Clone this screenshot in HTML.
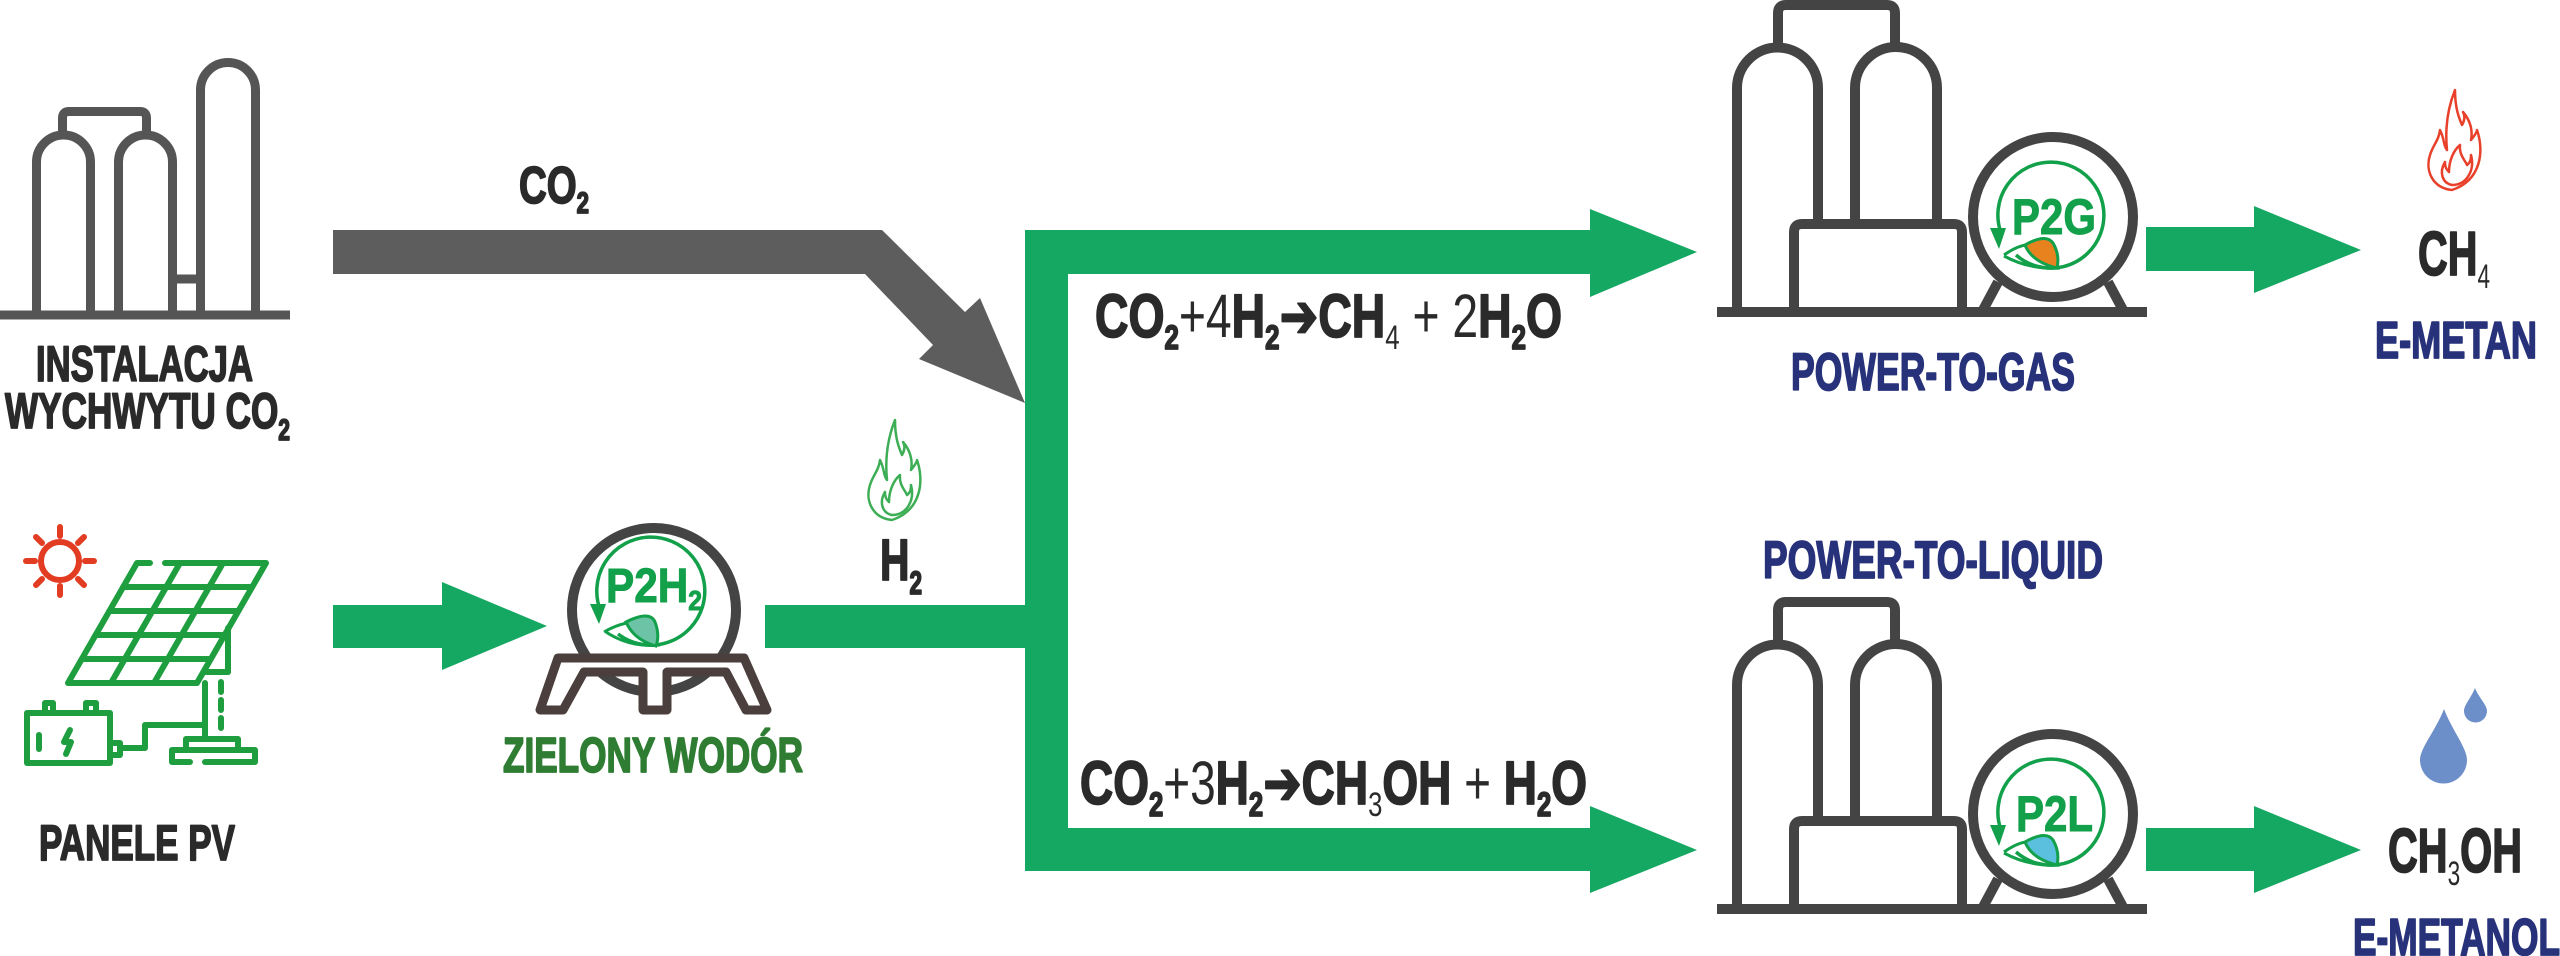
<!DOCTYPE html>
<html><head><meta charset="utf-8"><style>
html,body{margin:0;padding:0;background:#fff;}
svg{display:block;}
.t{font-family:"Liberation Sans Narrow","Liberation Sans",sans-serif;font-weight:bold;stroke-width:1.8px;stroke-linejoin:round;}
.r{font-weight:normal;stroke:none;}
</style></head><body>
<svg width="2560" height="956" viewBox="0 0 2560 956" xmlns="http://www.w3.org/2000/svg">
<polygon fill="#5d5d5d" points="333,230 882,230 965,312 980,298 1025,403 919,359 933,345 865,274 333,274"/>
<polygon fill="#15a862" points="1025,230 1590,230 1590,209 1697,252 1590,297 1590,274 1068,274 1068,828 1590,828 1590,806 1697,850 1590,893 1590,871 1025,871 1025,648 765,648 765,605 1025,605"/>
<polygon fill="#15a862" points="333,605 442,605 442,582 547,626 442,670 442,648 333,648"/>
<polygon fill="#15a862" points="2146,227 2254,227 2254,206 2361,250 2254,293 2254,271 2146,271"/>
<polygon fill="#15a862" points="2146,828 2254,828 2254,806 2361,850 2254,893 2254,871 2146,871"/>

<g fill="none" stroke="#555" stroke-width="9">
<line x1="0" y1="315" x2="290" y2="315"/>
<path d="M36.5,315 V162 A27,27 0 0 1 90.5,162 V315"/>
<path d="M118.5,315 V162 A27,27 0 0 1 172.5,162 V315"/>
<path d="M200.5,315 V90 A27.5,27.5 0 0 1 255.5,90 V315"/>
<path d="M62.5,136 V118 Q62.5,111.5 69,111.5 H140 Q146.5,111.5 146.5,118 V136"/>
<line x1="172.5" y1="279" x2="200.5" y2="279"/>
</g>
<text class="t" x="36" y="381" font-size="50" fill="#2a2a2a" stroke="#2a2a2a" textLength="217" lengthAdjust="spacingAndGlyphs">INSTALACJA</text>
<text class="t" x="5" y="428" font-size="50" fill="#2a2a2a" stroke="#2a2a2a" textLength="285" lengthAdjust="spacingAndGlyphs">WYCHWYTU CO<tspan font-size="30" dy="12">2</tspan></text>
<text class="t" x="519" y="203" font-size="52" fill="#2a2a2a" stroke="#2a2a2a" textLength="70" lengthAdjust="spacingAndGlyphs">CO<tspan font-size="30" dy="10">2</tspan></text>

<g stroke="#e23c22" stroke-width="6" stroke-linecap="round" fill="none">
<circle cx="60" cy="561" r="19"/>
<line x1="60" y1="536" x2="60" y2="527"/><line x1="60" y1="586" x2="60" y2="595"/>
<line x1="35" y1="561" x2="26" y2="561"/><line x1="85" y1="561" x2="94" y2="561"/>
<line x1="42" y1="543" x2="36" y2="537"/><line x1="78" y1="543" x2="84" y2="537"/>
<line x1="42" y1="579" x2="36" y2="585"/><line x1="78" y1="579" x2="84" y2="585"/>
</g>
<g stroke="#1e9e3e" stroke-width="6" stroke-linecap="round" stroke-linejoin="round" fill="none">
<path d="M150,563 H137 L68,683 H197 L266,563 H165"/>
<line x1="123.2" y1="587" x2="252.2" y2="587"/>
<line x1="109.4" y1="611" x2="238.4" y2="611"/>
<line x1="95.6" y1="635" x2="224.6" y2="635"/>
<line x1="81.8" y1="659" x2="210.8" y2="659"/>
<line x1="180" y1="563" x2="111" y2="683"/>
<line x1="223" y1="563" x2="154" y2="683"/>
<line x1="228" y1="628" x2="228" y2="672"/>
<line x1="205" y1="672" x2="228" y2="672"/>
<line x1="205" y1="683" x2="205" y2="738"/>
<line x1="221" y1="682" x2="221" y2="735" stroke-dasharray="10,8"/>
<path d="M186,748 V739 H238 V748"/>
<path d="M190,762 H172 V750 H255 V762 H205"/>
<rect x="27" y="713" width="83" height="50"/>
<path d="M45,713 V703 H53 V713 M86,713 V703 H96 V713"/>
<line x1="39" y1="735" x2="39" y2="749"/>
<path d="M70,730 L64,742 H71 L66,754"/>
<path d="M110,743 H120 V755 H110"/>
<path d="M120,748 H145 V725 H203"/>
</g>
<text class="t" x="39" y="860" font-size="50" fill="#2a2a2a" stroke="#2a2a2a" textLength="196" lengthAdjust="spacingAndGlyphs">PANELE PV</text>

<circle cx="654" cy="610" r="82" fill="none" stroke="#444" stroke-width="10"/>
<polygon fill="#fff" stroke="#4a3f3c" stroke-width="9" stroke-linejoin="round" points="558,658 744,658 767,710 746,710 726,672 667,672 667,710 643,710 643,672 584,672 563,710 540,710"/>
<path d="M618,634 A54,54 0 1 0 601,612" fill="none" stroke="#12a04a" stroke-width="3.5"/>
<polygon fill="#12a04a" points="590,604 606,604 599,624"/>
<path d="M604,632 Q625,620 645,622" fill="none" stroke="#12a04a" stroke-width="3"/>
<path d="M606,632 Q630,648 660,645" fill="none" stroke="#12a04a" stroke-width="3"/>
<path d="M626,622 Q650,610 655,622 Q660,635 656,646 Q634,640 626,622 Z" fill="#6cc3a6" stroke="#12a04a" stroke-width="3"/>
<text x="606" y="602" font-family="Liberation Sans, sans-serif" font-weight="bold" font-size="48" fill="#12a04a" stroke="#12a04a" stroke-width="1" textLength="96" lengthAdjust="spacingAndGlyphs">P2H<tspan font-size="28" dy="8">2</tspan></text>
<text class="t" x="503" y="772" font-size="49" fill="#2e7d32" stroke="#2e7d32" textLength="300" lengthAdjust="spacingAndGlyphs">ZIELONY WODÓR</text>

<g fill="none" stroke="#3dae55" stroke-width="2.5" stroke-linejoin="round">
<path d="M892,520 C872,518 865,500 870,485 C873,475 879,470 880,460 C885,470 883,475 887,480 C885,460 887,440 895,420 C895,440 900,450 902,455 C905,450 905,445 903,442 C910,450 913,460 911,470 C915,465 917,462 917,460 C924,480 922,510 892,520 Z"/>
<path d="M892,515 C882,513 879,502 885,492 C885,498 887,500 889,502 C889,490 894,480 900,475 C899,485 905,490 907,495 C911,492 911,488 911,485 C915,500 907,515 892,515 Z"/>
</g>
<text class="t" x="880" y="580" font-size="58" fill="#2a2a2a" stroke="#2a2a2a" textLength="42" lengthAdjust="spacingAndGlyphs">H<tspan font-size="32" dy="14">2</tspan></text>

<text class="t" x="1095" y="337" font-size="61" fill="#2a2a2a" stroke="#2a2a2a" textLength="467" lengthAdjust="spacingAndGlyphs">CO<tspan font-size="34" dy="12">2</tspan><tspan class="r" dy="-12">+4</tspan>H<tspan font-size="34" dy="12">2</tspan><tspan dy="-12" font-family="DejaVu Sans, sans-serif">➔</tspan>CH<tspan font-size="34" class="r" dy="12">4</tspan><tspan class="r" dy="-12"> + 2</tspan>H<tspan font-size="34" dy="12">2</tspan><tspan dy="-12">O</tspan></text>
<text class="t" x="1080" y="804" font-size="61" fill="#2a2a2a" stroke="#2a2a2a" textLength="507" lengthAdjust="spacingAndGlyphs">CO<tspan font-size="34" dy="12">2</tspan><tspan class="r" dy="-12">+3</tspan>H<tspan font-size="34" dy="12">2</tspan><tspan dy="-12" font-family="DejaVu Sans, sans-serif">➔</tspan>CH<tspan font-size="34" class="r" dy="12">3</tspan><tspan dy="-12">OH</tspan><tspan class="r"> + </tspan>H<tspan font-size="34" dy="12">2</tspan><tspan dy="-12">O</tspan></text>

<g id="plant">
<g fill="none" stroke="#444" stroke-width="10" stroke-linejoin="round">
<line x1="1717" y1="312" x2="2147" y2="312"/>
<path d="M1737,312 V88 A40.5,40.5 0 0 1 1818,88 V224"/>
<path d="M1855,224 V88 A41,41 0 0 1 1937,88 V224"/>
<path d="M1778,47 V13 Q1778,5 1786,5 H1887 Q1895,5 1895,13 V47"/>
<path d="M1794,312 V232 Q1794,224 1802,224 H1954 Q1962,224 1962,232 V312"/>
<line x1="1998" y1="282" x2="1983" y2="310"/>
<line x1="2108" y1="282" x2="2123" y2="310"/>
<circle cx="2053" cy="217" r="80" fill="#fff"/>
</g>
<path d="M2016,255 A53,53 0 1 0 2001,233" fill="none" stroke="#12a04a" stroke-width="3.5"/>
<polygon fill="#12a04a" points="1990,228 2006,228 1999,249"/>
<path d="M2004,255 Q2020,244 2030,245" fill="none" stroke="#12a04a" stroke-width="3"/>
<path d="M2004,256 Q2030,270 2060,268" fill="none" stroke="#12a04a" stroke-width="3"/>
</g>
<path d="M2025,245 Q2046,233 2053,243 Q2060,255 2057,268 Q2032,262 2025,245 Z" fill="#e8821e" stroke="#12a04a" stroke-width="3"/>
<text x="2012" y="234" font-family="Liberation Sans, sans-serif" font-weight="bold" font-size="50" fill="#12a04a" stroke="#12a04a" stroke-width="1" textLength="84" lengthAdjust="spacingAndGlyphs">P2G</text>

<use href="#plant" transform="translate(0,597)"/>
<path d="M2025,842 Q2046,830 2053,840 Q2060,852 2057,865 Q2032,859 2025,842 Z" fill="#5bc0de" stroke="#12a04a" stroke-width="3"/>
<text x="2016" y="831" font-family="Liberation Sans, sans-serif" font-weight="bold" font-size="50" fill="#12a04a" stroke="#12a04a" stroke-width="1" textLength="77" lengthAdjust="spacingAndGlyphs">P2L</text>

<text class="t" x="1791" y="390" font-size="53" fill="#27327a" stroke="#27327a" textLength="284" lengthAdjust="spacingAndGlyphs">POWER-TO-GAS</text>
<text class="t" x="1763" y="578" font-size="53" fill="#27327a" stroke="#27327a" textLength="340" lengthAdjust="spacingAndGlyphs">POWER-TO-LIQUID</text>

<g fill="none" stroke="#e8402a" stroke-width="2.5" stroke-linejoin="round" transform="translate(1560,-330)">
<path d="M892,520 C872,518 865,500 870,485 C873,475 879,470 880,460 C885,470 883,475 887,480 C885,460 887,440 895,420 C895,440 900,450 902,455 C905,450 905,445 903,442 C910,450 913,460 911,470 C915,465 917,462 917,460 C924,480 922,510 892,520 Z"/>
<path d="M892,515 C882,513 879,502 885,492 C885,498 887,500 889,502 C889,490 894,480 900,475 C899,485 905,490 907,495 C911,492 911,488 911,485 C915,500 907,515 892,515 Z"/>
</g>
<text class="t" x="2418" y="275" font-size="62" fill="#2a2a2a" stroke="#2a2a2a" textLength="72" lengthAdjust="spacingAndGlyphs">CH<tspan font-size="34" class="r" dy="13">4</tspan></text>
<text class="t" x="2375" y="358" font-size="52" fill="#27327a" stroke="#27327a" textLength="162" lengthAdjust="spacingAndGlyphs">E-METAN</text>

<path d="M2444,709 C2436,730 2420,748 2420,760 A23.5,23.5 0 0 0 2467,760 C2467,748 2452,730 2444,709 Z" fill="#6c8fc9"/>
<path d="M2475,688 C2471,698 2464,705 2464,711 A11.5,11.5 0 0 0 2487,711 C2487,705 2479,698 2475,688 Z" fill="#6c8fc9"/>
<text class="t" x="2388" y="872" font-size="62" fill="#2a2a2a" stroke="#2a2a2a" textLength="134" lengthAdjust="spacingAndGlyphs">CH<tspan font-size="34" class="r" dy="13">3</tspan><tspan dy="-13">OH</tspan></text>
<text class="t" x="2353" y="955" font-size="52" fill="#27327a" stroke="#27327a" textLength="207" lengthAdjust="spacingAndGlyphs">E-METANOL</text>
</svg>
</body></html>
